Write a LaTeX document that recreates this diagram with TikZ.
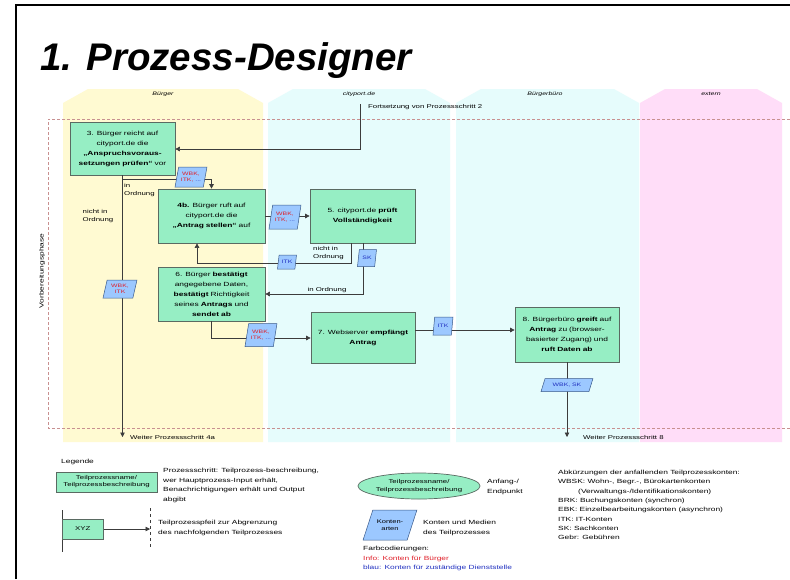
\documentclass[tikz,border=0pt]{standalone}
\usepackage{fontspec}
\setmainfont[FakeStretch=1.4]{Liberation Sans}
\newfontfamily\titlefont{Liberation Sans}
\usetikzlibrary{arrows.meta,shapes.geometric}

\definecolor{stepgreen}{HTML}{96EEC4}
\definecolor{stepedge}{HTML}{5A6A62}
\definecolor{datablue}{HTML}{9CC8FF}
\definecolor{dataedge}{HTML}{3A5A8A}
\definecolor{laneyellow}{HTML}{FFFAD2}
\definecolor{lanecyan}{HTML}{E6FCFC}
\definecolor{lanepink}{HTML}{FFDDF8}
\definecolor{phaseline}{HTML}{C89090}
\definecolor{flowgray}{HTML}{3C3C3C}
\definecolor{infored}{HTML}{E0202A}
\definecolor{infoblue}{HTML}{2030C0}

\tikzset{
  stepbox/.style={draw=stepedge, line width=0.7pt, fill=stepgreen, align=center,
    inner sep=0.5pt, font=\fontsize{6}{10}\selectfont},
  databox/.style={trapezium, trapezium left angle=74, trapezium right angle=106,
    trapezium stretches=true, draw=dataedge, line width=0.5pt, fill=datablue,
    align=center, inner sep=0.3pt, font=\fontsize{4.9}{6.2}\selectfont},
  flow/.style={draw=flowgray, line width=0.6pt},
  flowarrow/.style={flow, -{Triangle[length=4.5pt,width=4.5pt]}},
  small/.style={font=\fontsize{5.6}{8}\selectfont, inner sep=0pt, align=left},
  lanelabel/.style={font=\fontsize{5}{6}\selectfont\itshape, inner sep=0pt},
  legendtext/.style={font=\fontsize{6}{9.5}\selectfont, inner sep=0pt, align=left, anchor=north west},
}

\begin{document}
\begin{tikzpicture}[x=1pt, y=-1pt]
\useasboundingbox (0,0) rectangle (790,579);
\fill[white] (0,0) rectangle (790,579);

% page frame
\draw[line width=2pt] (16,579) -- (16,5) -- (790,5);

% title
\node[anchor=base west, inner sep=0pt, font=\titlefont\fontsize{38.5}{42}\selectfont\bfseries\itshape] (title) at (40,70) {1. Prozess-Designer};

% swim lanes with roof-shaped headers
\fill[laneyellow] (63,442) -- (63,103) -- (88,89) -- (238,89) -- (263,103) -- (263,442) -- cycle;
\fill[lanecyan] (268,442) -- (268,103) -- (293,89) -- (425,89) -- (450,103) -- (450,442) -- cycle;
\fill[lanecyan] (456,442) -- (456,103) -- (481,89) -- (614,89) -- (639,103) -- (639,442) -- cycle;
\fill[lanepink] (640,442) -- (640,103) -- (665,89) -- (757,89) -- (782,103) -- (782,442) -- cycle;
\node[lanelabel] (lBuerger) at (163,94) {Bürger};
\node[lanelabel] (lCity) at (359,94) {cityport.de};
\node[lanelabel] (lBuero) at (545,94) {Bürgerbüro};
\node[lanelabel] (lExtern) at (711,94) {extern};

% phase frame
\draw[phaseline, line width=0.6pt, densely dashed] (790,119) -- (48,119) -- (48,428) -- (790,428);
\node[rotate=90, font=\fontsize{6}{6}\selectfont, inner sep=0pt] (phase) at (42,271) {Vorbereitungsphase};

% process steps
\node[stepbox, minimum width=105pt, minimum height=53pt, text width=104pt] (A) at (122.5,148.5)
  {3. Bürger reicht auf\\ cityport.de die\\ \textbf{„Anspruchsvoraus-}\\ \textbf{setzungen prüfen“} vor};
\node[stepbox, minimum width=107pt, minimum height=54pt, text width=106pt] (B) at (211.5,216)
  {\textbf{4b.} Bürger ruft auf\\ cityport.de die\\ \textbf{„Antrag stellen“} auf};
\node[stepbox, minimum width=105pt, minimum height=54pt, text width=104pt] (C) at (362.5,216)
  {5. cityport.de \textbf{prüft}\\ \textbf{Vollständigkeit}};
\node[stepbox, minimum width=107pt, minimum height=54pt, text width=106pt] (D) at (211.5,294)
  {6. Bürger \textbf{bestätigt}\\ angegebene Daten,\\ \textbf{bestätigt} Richtigkeit\\ seines \textbf{Antrags} und\\ \textbf{sendet ab}};
\node[stepbox, minimum width=104pt, minimum height=51pt, text width=103pt] (E) at (363,337.5)
  {7. Webserver \textbf{empfängt}\\ \textbf{Antrag}};
\node[stepbox, minimum width=104pt, minimum height=55pt, text width=103pt] (F) at (567,334.5)
  {8. Bürgerbüro \textbf{greift} auf\\ \textbf{Antrag} zu (browser-\\ basierter Zugang) und\\ \textbf{ruft Daten ab}};

% entry from the previous step
\coordinate (fromStep2) at (360,104);
\coordinate (kA) at (360,149);
\node[small, anchor=west] (tFort) at (368,107) {Fortsetzung von Prozessschritt 2};
\draw[flowarrow] (fromStep2) -- (kA) -- (A.east |- kA);

% exits
\coordinate (exit4a) at (122.5,437);
\coordinate (exit8) at (567,437);
\draw[flowarrow] (A.south) -- (exit4a);
\node[small, anchor=west] (tExit4a) at (130,437) {Weiter Prozessschritt 4a};
\node[small] (tNichtA) at (98,216) {nicht in\\Ordnung};
\draw[flowarrow] (F.south) -- (exit8);
\node[small, anchor=west] (tExit8) at (583,437) {Weiter Prozessschritt 8};

% A -> B
\coordinate (kAB) at (122.5,179);
\draw[flowarrow] (kAB) -| (B.north);
\node[small, anchor=north west] (tInA) at (124,183) {in\\Ordnung};

% B -> C
\draw[flowarrow] (B.east) -- (C.west);

% C -> B (nicht in Ordnung)
\coordinate (kC1) at (351,263);
\coordinate (kB1) at (197,263);
\draw[flowarrow] (C.south -| kC1) -- (kC1) -- (kB1) -- (B.south -| kB1);
\node[small, anchor=north west] (tNichtC) at (313,246) {nicht in\\Ordnung};

% C -> D (in Ordnung)
\coordinate (kC2) at (363,294);
\draw[flowarrow] (C.south -| kC2) -- (kC2) -- (D.east);
\node[small, anchor=south] (tInC) at (327,293) {in Ordnung};

% D -> E
\coordinate (kD) at (211.5,338);
\draw[flowarrow] (D.south) -- (kD) -- (E.west |- kD);

% E -> F
\coordinate (kEF) at (415,330);
\draw[flowarrow] (E.east |- kEF) -- (F.west |- kEF);

% data / accounts on the flows
\node[databox, minimum width=32pt, minimum height=20pt] (d1) at (191,177)
  {\color{infored}WBK,\\\color{infored}ITK, \color{infoblue}...};
\node[databox, minimum width=32pt, minimum height=24pt] (d2) at (285,217)
  {\color{infored}WBK,\\\color{infored}ITK, \color{infoblue}...};
\node[databox, minimum width=19pt, minimum height=14pt] (d3) at (287,262)
  {\color{infoblue}ITK};
\node[databox, minimum width=19pt, minimum height=17pt] (d4) at (367,258)
  {\color{infoblue}SK};
\node[databox, minimum width=34pt, minimum height=18pt] (d5) at (120,289)
  {\color{infored}WBK,\\\color{infored}ITK};
\node[databox, minimum width=32pt, minimum height=23pt] (d6) at (261,335)
  {\color{infored}WBK,\\\color{infored}ITK, \color{infoblue}...};
\node[databox, minimum width=20pt, minimum height=18pt] (d7) at (443,326)
  {\color{infoblue}ITK};
\node[databox, trapezium left angle=60, trapezium right angle=120, minimum width=52pt, minimum height=13pt] (d8) at (567,385)
  {\color{infoblue}WBK, SK};

% legend
\node[legendtext] (lgTitle) at (61,459) {Legende};
\node[stepbox, minimum width=101pt, minimum height=20pt, text width=100pt, font=\fontsize{5.6}{7}\selectfont] (lgStep) at (106.5,482)
  {Teilprozessname/\\Teilprozessbeschreibung};
\node[legendtext] (lgStepText) at (163,468)
  {Prozessschritt: Teilprozess-beschreibung,\\wer Hauptprozess-Input erhält,\\Benachrichtigungen erhält und Output\\abgibt};

\coordinate (lgBarTop) at (62,510);
\coordinate (lgBarBot) at (62,552);
\draw[flow] (lgBarTop) -- (lgBarBot);
\node[stepbox, anchor=west, minimum width=41pt, minimum height=20pt, font=\fontsize{5.6}{7}\selectfont] (lgXYZ) at (62,529) {XYZ};
\coordinate (lgCut) at (150,529);
\coordinate (lgCutTop) at (150,508);
\coordinate (lgCutBot) at (150,548);
\draw[flow, dashed, line width=0.5pt] (lgCutTop) -- (lgCutBot);
\draw[flowarrow] (lgXYZ.east) -- (lgCut);
\node[legendtext] (lgArrowText) at (158,520)
  {Teilprozesspfeil zur Abgrenzung\\des nachfolgenden Teilprozesses};

\node[ellipse, draw=stepedge, line width=0.7pt, fill=stepgreen, minimum width=122pt, minimum height=26pt,
  inner sep=0pt, align=center, font=\fontsize{5.6}{7.5}\selectfont] (lgEnd) at (419,486)
  {Teilprozessname/\\Teilprozessbeschreibung};
\node[legendtext] (lgEndText) at (487,479) {Anfang-/\\Endpunkt};

\node[databox, trapezium left angle=56, trapezium right angle=124, minimum width=54pt, minimum height=30pt,
  font=\fontsize{5.4}{7}\selectfont] (lgData) at (390,525) {Konten-\\arten};
\node[legendtext] (lgDataText) at (423,520) {Konten und Medien\\des Teilprozesses};

\node[legendtext] (lgColors) at (363,546)
  {Farbcodierungen:\\\color{infored}Info: Konten für Bürger\\\color{infoblue}blau: Konten für zuständige Dienststelle};

\node[legendtext, font=\fontsize{6}{9.3}\selectfont] (lgAbbr) at (558,470)
  {Abkürzungen der anfallenden Teilprozesskonten:\\
   WBSK: Wohn-, Begr.-, Bürokartenkonten\\
   \hspace*{20pt}(Verwaltungs-/Identifikationskonten)\\
   BRK: Buchungskonten (synchron)\\
   EBK: Einzelbearbeitungskonten (asynchron)\\
   ITK: IT-Konten\\
   SK: Sachkonten\\
   Gebr: Gebühren};
\end{tikzpicture}
\end{document}
